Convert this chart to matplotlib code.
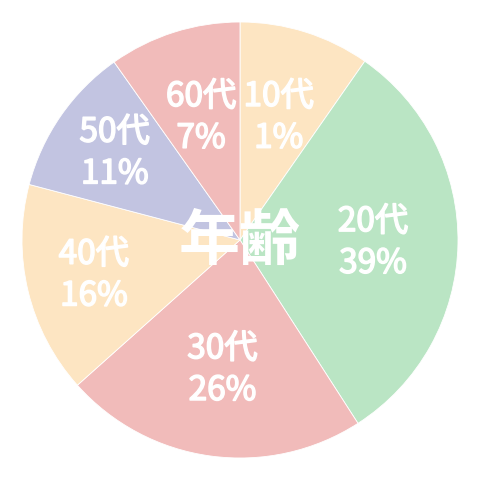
import numpy as np
import matplotlib.pyplot as plt
import matplotlib.patheffects as pe

# wedge sizes as drawn in the picture, plus the labels printed on them
ages = ['10代', '20代', '30代', '40代', '50代', '60代']
sizes = [9.7, 31.2, 22.5, 15.7, 11.1, 9.8]
pct_labels = ['1%', '39%', '26%', '16%', '11%', '7%']
colors = ['#FDE5C2', '#BAE5C4', '#F1BBBA', '#FDE5C2', '#C2C4E1', '#F1BBBA']
label_r = [0.59, 0.61, 0.60, 0.69, 0.70, 0.59]

plt.rcParams['font.family'] = ['Noto Sans CJK JP', 'DejaVu Sans']

fig = plt.figure(figsize=(4.8, 4.8), dpi=100)
ax = fig.add_axes([0, 0, 1, 1])

wedges, _ = ax.pie(sizes, colors=colors, startangle=90, counterclock=False,
                   wedgeprops=dict(edgecolor='white', linewidth=0.6))

# regular face with a thin stroke sits between regular and bold
thicken = [pe.withStroke(linewidth=1.1, foreground='white')]
for w, age, pct, r in zip(wedges, ages, pct_labels, label_r):
    mid = np.deg2rad((w.theta1 + w.theta2) / 2)
    x, y = r * np.cos(mid), r * np.sin(mid)
    ax.text(x, y, age + '\n' + pct, ha='center', va='center', color='white',
            fontsize=24, linespacing=1.25, path_effects=thicken)

ax.text(0, -0.01, '年齢', ha='center', va='center', color='white',
        fontsize=44, fontweight='bold')

lim = 240 / 218
ax.set_xlim(-lim, lim)
ax.set_ylim(-lim, lim)
ax.set_aspect('equal')
ax.axis('off')

fig.savefig('out.png', dpi=100, facecolor='white')
